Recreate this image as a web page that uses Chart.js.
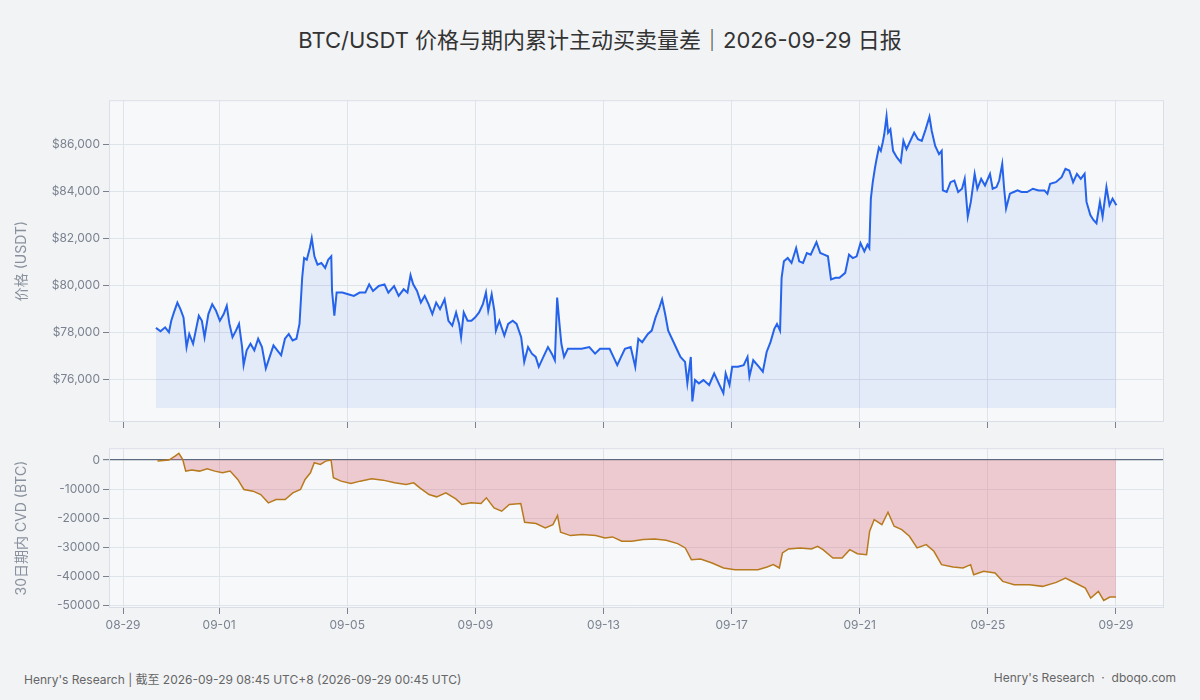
<!DOCTYPE html>
<html><head><meta charset="utf-8">
<script src="https://cdn.jsdelivr.net/npm/chart.js@4"></script>
<style>
body{margin:0;background:#f2f3f5;width:1200px;height:700px;overflow:hidden;font-family:Inter,"Noto Sans CJK SC",sans-serif;position:relative}
#t{position:absolute;top:22px;left:0;width:1200px;text-align:center;font-size:22px;color:#333}
.f{position:absolute;top:670px;font-size:12px;color:#666}
#c1{position:absolute;left:0;top:90px}
#c2{position:absolute;left:0;top:438px}
</style></head><body>
<div id="t">BTC/USDT 价格与期内累计主动买卖量差｜2026-09-29 日报</div>
<canvas id="c1" width="1200" height="345"></canvas>
<canvas id="c2" width="1200" height="202"></canvas>
<div class="f" style="left:24px">Henry's Research | 截至 2026-09-29 08:45 UTC+8 (2026-09-29 00:45 UTC)</div>
<div class="f" style="right:24px">Henry's Research &nbsp;·&nbsp; dboqo.com</div>
<script>
// hours since 08-29 00:00 (approx.)
const dateTicks=[0,72,168,264,360,456,552,648,744];
const dateLabels=["08-29","09-01","09-05","09-09","09-13","09-17","09-21","09-25","09-29"];
const priceA=[[408,78205],[420,78065],[432,78230],[442,78020],[448,78510],[455,78865],[464,79285],[472,79005],[480,78655],[488,77390],[495,77950],[505,77530],[512,78090],[520,78725],[528,78510],[535,77810],[545,78795],[555,79215],[565,78935],[575,78510],[585,78795],[593,79145],[600,78375],[608,77810],[617,78090],[625,78375],[633,77390],[637,76620],[645,77250],[655,77530],[665,77250],[675,77745],[685,77390],[695,76480],[705,76970],[715,77460],[725,77250],[735,77040],[745,77745],[755,77950],[765,77670],[775,77745],[783,78375],[790,80340],[795,81180],[802,81110],[810,81605],[815,82025],[822,81255],[830,80900],[840,80970],[850,80760],[858,81110],[866,81255],[868,79780],[874,78725],[880,79710],[895,79710],[910,79640],[925,79570],[940,79710],[955,79710],[965,80060],[975,79780],[990,79990],[1005,80060],[1015,79710],[1030,79990],[1042,79570],[1055,79850],[1065,79710],[1073,80450],[1080,80060],[1090,79780],[1100,79285],[1110,79570],[1120,79215],[1130,78795],[1140,79285],[1150,79005],[1162,79425],[1172,78510],[1182,78300],[1192,78865],[1200,78375],[1205,77810],[1212,78865],[1222,78510],[1232,78510],[1242,78655],[1252,78865],[1262,79215],[1270,79710],[1276,78935],[1285,79640],[1292,78935],[1296,78090],[1305,78510],[1318,77880],[1328,78375],[1340,78510],[1350,78375],[1362,77810],[1370,76760],[1380,77390],[1390,77110],[1400,76970],[1408,76550],[1420,76970],[1432,77390],[1442,77110],[1450,76830],[1456,79495],[1462,78375],[1467,77530],[1474,76970],[1484,77320],[1500,77320],[1520,77320],[1540,77390],[1555,77110]];
const priceB=[[0,77320],[25,77320],[35,76970],[45,76620],[55,76970],[65,77320],[80,77390],[92,76550],[100,77745],[110,77600],[125,77950],[135,78090],[145,78655],[155,79075],[162,79425],[170,78795],[178,78090],[190,77670],[200,77320],[210,76970],[222,76760],[228,75845],[237,76970],[241,75075],[248,75985],[258,75845],[270,75985],[285,75775],[298,76270],[310,75845],[322,75425],[328,76270],[338,75775],[345,76550],[360,76550],[375,76620],[385,76970],[390,76130],[400,76830],[415,76550],[425,76340],[435,77180],[445,77600],[455,78165],[462,78375],[470,78090],[474,80340],[480,81040],[490,81180],[500,80970],[512,81605],[520,81040],[530,80970],[540,81395],[550,81325],[565,81855],[575,81395],[585,81325],[595,81255],[603,80270],[615,80340],[625,80340],[640,80550],[650,81325],[660,81180],[670,81255],[680,81815],[690,81465],[698,81745],[703,81605],[707,83710],[712,84410],[718,85045],[722,85395],[728,85885],[733,85745],[738,86100],[742,86450],[748,87220],[752,86520],[758,86660],[765,85745],[775,85465],[785,85255],[792,86170],[800,85815],[810,86170],[820,86520],[830,86240],[840,86170],[850,86660],[860,87195],[866,86590],[875,85955],[885,85605],[892,85745],[895,84060],[905,83990],[915,84410],[925,84480],[935,83990],[945,84130],[952,84550],[960,82940],[968,83570],[978,84765],[985,84130],[995,84550],[1005,84270],[1018,84765],[1025,84130],[1035,84200],[1042,84480],[1050,85185],[1055,84130],[1060,83290],[1070,83920],[1080,83990],[1090,84060],[1100,83990],[1115,83990],[1130,84130],[1145,84060],[1160,84060],[1168,83920],[1175,84340],[1190,84410],[1205,84620],[1215,84975],[1225,84905],[1235,84410],[1245,84765],[1255,84550],[1265,84765],[1270,83570],[1280,83010],[1288,82800],[1296,82660],[1305,83570],[1312,82940],[1322,84200],[1330,83430],[1338,83710],[1348,83430]];
const cvdRaw=[[205,-345],[220,0],[228,1380],[233,2300],[238,230],[242,-3800],[250,-3460],[260,-3800],[270,-3000],[280,-3800],[290,-4380],[300,-3800],[310,-6680],[318,-10140],[330,-10710],[340,-11870],[350,-14750],[360,-13590],[372,-13590],[382,-11290],[392,-10140],[398,-6680],[405,-4380],[410,-920],[418,-1500],[425,-345],[432,0],[435,-6100],[445,-7260],[458,-8060],[470,-7260],[485,-6450],[500,-6910],[515,-7830],[530,-8410],[540,-7830],[548,-9560],[560,-11870],[570,-12670],[582,-11290],[595,-13360],[603,-15320],[615,-14750],[628,-14980],[635,-13020],[645,-16470],[655,-17630],[665,-15320],[680,-14980],[685,-21430],[700,-21890],[712,-23390],[722,-22230],[728,-19120],[732,-24880],[745,-26040],[760,-25690],[778,-26040],[790,-26840],[800,-26500],[812,-27990],[825,-27990],[840,-27420],[855,-27190],[870,-27650],[885,-28800],[895,-30300],[903,-34330],[915,-34100],[930,-35480],[945,-37210],[960,-37790],[975,-37790],[990,-37790],[1002,-36860],[1010,-36060],[1018,-37210],[1022,-32030],[1030,-30650],[1045,-30300],[1060,-30650],[1068,-29720],[1075,-30880],[1088,-33750],[1100,-33750],[1110,-30880],[1120,-32260],[1132,-32600],[1136,-24540],[1142,-20510],[1152,-22230],[1160,-17970],[1168,-22810],[1178,-23960],[1188,-26270],[1198,-30300],[1210,-29150],[1220,-31450],[1230,-36060],[1245,-36860],[1258,-37210],[1268,-36060],[1272,-39510],[1285,-38360],[1300,-38940],[1310,-41820],[1325,-42970],[1345,-42970],[1362,-43540],[1380,-42160],[1392,-40670],[1405,-42390],[1418,-44120],[1425,-47580],[1435,-45270],[1442,-48380],[1450,-47230],[1458,-47230]];
const priceYTicks=[76000,78000,80000,82000,84000,86000];
const cvdYTicks=[0,-10000,-20000,-30000,-40000,-50000];

const pricePts=priceA.map(p=>({x:(p[0]-322)/3.486,y:p[1]})).concat(priceB.map(p=>({x:360+(p[0]-9)/3.484,y:p[1]})));
const cvdPts=cvdRaw.map(p=>({x:(p[0]-160)/1.7446,y:p[1]}));

const FONT={family:'Inter, "Noto Sans CJK SC", sans-serif',size:12};
const GRID='#dfe3ea';
const bg={id:'bg',beforeDraw(c){const a=c.chartArea,x=c.ctx;x.save();x.fillStyle='#f7f8fa';x.fillRect(a.left,a.top,a.width,a.height);x.restore();},
 afterDraw(c){const a=c.chartArea,x=c.ctx;x.save();x.strokeStyle='#dadee6';x.lineWidth=1;x.strokeRect(a.left+0.5,a.top+0.5,a.width-1,a.height-1);x.restore();}};
function xScale(showLabels,h){return {type:'linear',min:-10.5,max:780,
  afterBuildTicks(s){s.ticks=dateTicks.map(v=>({value:v}));},
  afterFit(s){s.height=h;},
  ticks:{autoSkip:false,maxRotation:0,color:'#7a8290',font:FONT,padding:4,callback:(v,i)=>showLabels?dateLabels[i]:''},
  grid:{color:GRID,tickColor:'#7a8290',tickLength:6,drawTicks:true},border:{display:false}};}
Chart.defaults.animation=false;
new Chart(document.getElementById('c1'),{type:'line',plugins:[bg],
 data:{datasets:[{data:pricePts,borderColor:'#2563eb',borderWidth:2,pointRadius:0,tension:0,
   backgroundColor:'rgba(37,99,235,0.09)',fill:{value:74800}}]},
 options:{responsive:false,layout:{padding:{left:9,right:36,top:8,bottom:0}},plugins:{legend:{display:false},tooltip:{enabled:false}},
  scales:{x:xScale(false,13),
   y:{min:74200,max:87900,afterFit(s){s.width=100;},afterBuildTicks(s){s.ticks=priceYTicks.map(v=>({value:v}));},
    ticks:{color:'#7a8290',font:FONT,callback:v=>'$'+v.toLocaleString('en-US')},
    grid:{color:GRID,tickColor:'#7a8290',tickLength:6},border:{display:false},
    title:{display:true,text:'价格 (USDT)',color:'#8a919e',font:{family:FONT.family,size:14}}}}}});
new Chart(document.getElementById('c2'),{type:'line',plugins:[bg],
 data:{datasets:[{data:cvdPts,borderColor:'#b87a1e',borderWidth:1.5,pointRadius:0,tension:0,
   backgroundColor:'rgba(220,110,120,0.33)',fill:'origin'}]},
 options:{responsive:false,layout:{padding:{left:9,right:36,top:9,bottom:0}},plugins:{legend:{display:false},tooltip:{enabled:false}},
  scales:{x:xScale(true,32),
   y:{min:-51000,max:4100,afterFit(s){s.width=100;},afterBuildTicks(s){s.ticks=cvdYTicks.map(v=>({value:v}));},
    ticks:{color:'#7a8290',font:FONT,callback:v=>String(v)},
    grid:{color:c=>c.tick&&c.tick.value===0?'#5d6b7f':GRID,lineWidth:c=>c.tick&&c.tick.value===0?1.2:1,tickColor:'#7a8290',tickLength:6},border:{display:false},
    title:{display:true,text:'30日期内 CVD (BTC)',color:'#8a919e',font:{family:FONT.family,size:14}}}}}});
</script></body></html>
